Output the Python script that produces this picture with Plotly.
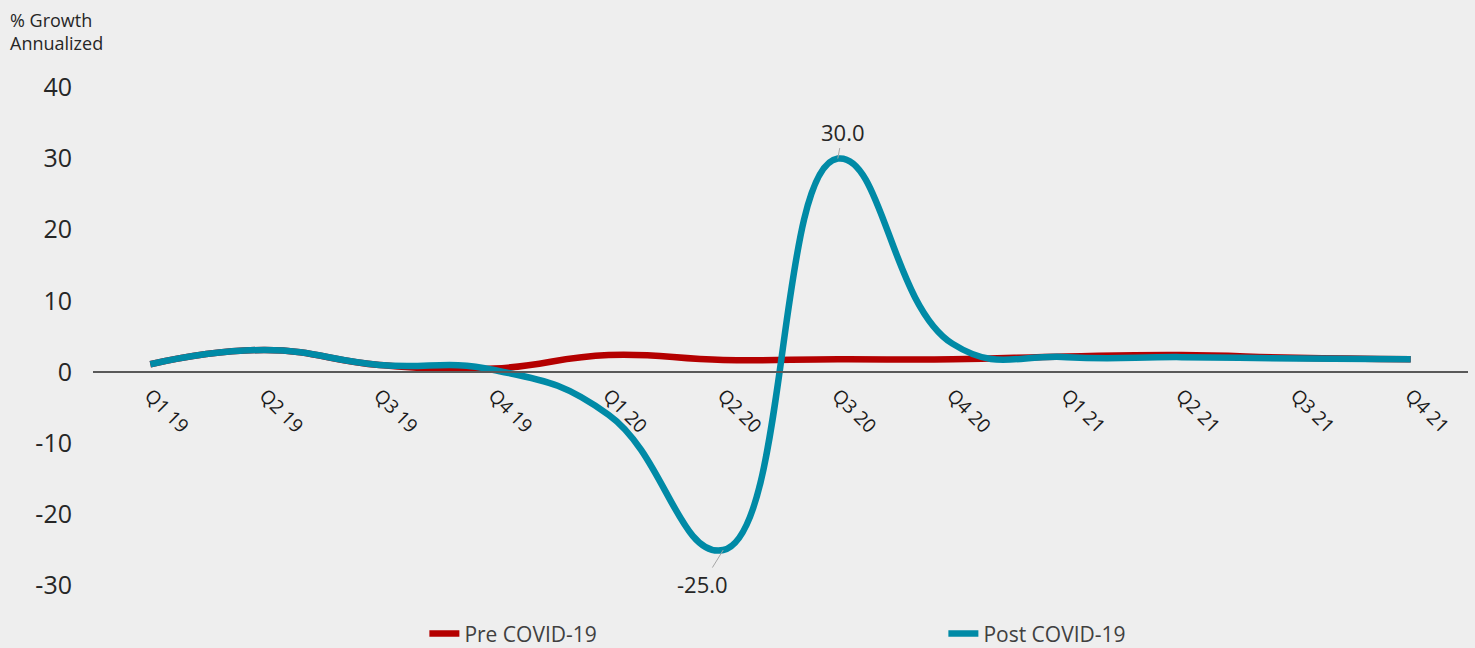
import plotly.graph_objects as go

quarters = ["Q1 19", "Q2 19", "Q3 19", "Q4 19", "Q1 20", "Q2 20",
            "Q3 20", "Q4 20", "Q1 21", "Q2 21", "Q3 21", "Q4 21"]
pre_covid = [1.1, 3.1, 1.0, 0.5, 2.4, 1.7, 1.8, 1.8, 2.2, 2.4, 2.0, 1.8]
post_covid = [1.1, 3.1, 1.0, 0.3, -6.0, -25.0, 30.0, 4.0, 2.1, 2.1, 1.9, 1.8]
y_ticks = [-30, -20, -10, 0, 10, 20, 30, 40]

RED = "#B40000"
BLUE = "#008AA6"
TEXT = "#262626"
FONT = "Open Sans"
Y_RANGE = [-33, 43]

fig = go.Figure()
fig.add_trace(go.Scatter(
    x=quarters, y=pre_covid, name="Pre COVID-19", mode="lines",
    line=dict(color=RED, width=6.5, shape="spline", smoothing=1.3),
))
fig.add_trace(go.Scatter(
    x=quarters, y=post_covid, name="Post COVID-19", mode="lines",
    line=dict(color=BLUE, width=6.5, shape="spline", smoothing=1.3),
))

# value callouts for the trough and the rebound
i_min = post_covid.index(min(post_covid))
i_max = post_covid.index(max(post_covid))
for idx, ax, ay in [(i_min, -21, 34), (i_max, 5, -27)]:
    fig.add_annotation(
        x=quarters[idx], y=post_covid[idx], text=f"{post_covid[idx]:.1f}",
        showarrow=True, arrowhead=0, arrowwidth=1, arrowcolor="#A6A6A6",
        ax=ax, ay=ay, font=dict(size=22, color=TEXT, family=FONT),
    )

fig.add_annotation(
    text="% Growth<br>Annualized", xref="paper", yref="paper",
    x=-0.062, y=1.111, xanchor="left", yanchor="top", align="left",
    showarrow=False, font=dict(size=18, color=TEXT, family=FONT),
)

zero_pos = (0 - Y_RANGE[0]) / (Y_RANGE[1] - Y_RANGE[0])

fig.update_layout(
    width=1475, height=648,
    margin=dict(l=93, r=7, t=66, b=41, autoexpand=False),
    paper_bgcolor="#EEEEEE", plot_bgcolor="#EEEEEE",
    font=dict(family=FONT, color=TEXT),
    showlegend=True,
    legend=dict(
        orientation="h", x=0.241, xanchor="left",
        yref="container", y=0.022, yanchor="middle",
        font=dict(size=21, color="#404040", family=FONT),
        entrywidth=474, entrywidthmode="pixels",
        bgcolor="rgba(0,0,0,0)",
    ),
    xaxis=dict(
        type="category", range=[-0.5, len(quarters) - 0.5],
        anchor="free", position=zero_pos,
        showline=True, linecolor="#595959", linewidth=2,
        showgrid=False, zeroline=False, ticks="", ticklabelstandoff=4,
        tickangle=45, tickfont=dict(size=19, color="#1a1a1a", family=FONT),
    ),
    yaxis=dict(
        range=Y_RANGE, tickvals=y_ticks, ticktext=[str(v) for v in y_ticks],
        showgrid=False, zeroline=False,
        showline=False, ticks="", ticklabelstandoff=20,
        tickfont=dict(size=25, color=TEXT, family=FONT),
    ),
)

fig.write_html("out.html")
